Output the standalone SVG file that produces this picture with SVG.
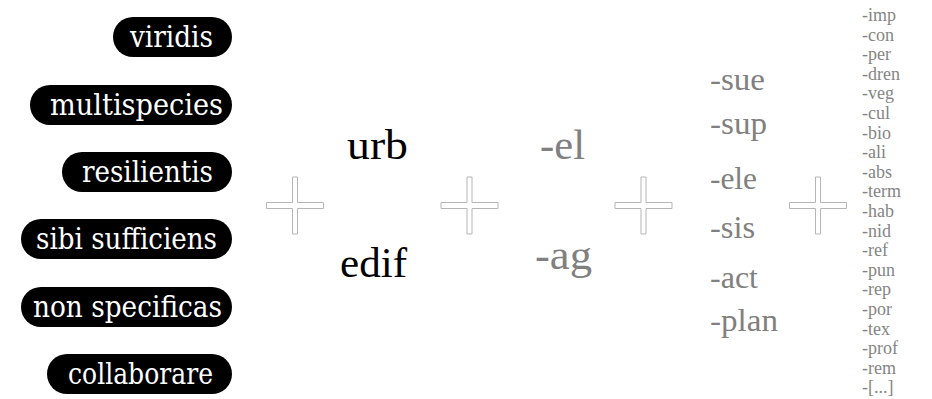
<svg xmlns="http://www.w3.org/2000/svg" xmlns:xlink="http://www.w3.org/1999/xlink" width="932" height="399" viewBox="0 0 932 399">
<style>
.pill{fill:#000}
.pt{fill:#fff;font-size:29px;font-family:'DejaVu Serif',serif}
.root{fill:#000;font-size:42px;font-family:'Liberation Serif',serif}
.suf1{fill:#808080;font-size:42px;font-family:'Liberation Serif',serif}
.suf2{fill:#808080;font-size:32px;font-family:'Liberation Serif',serif}
.suf3{fill:#858585;font-size:18px;font-family:'Liberation Serif',serif}
.plus{fill:#fff;stroke:#b5b5b5;stroke-width:1}
</style>
<defs>
<polygon id="plusShape" class="plus" points="-2.5,-28.5 2.5,-28.5 2.5,-3 28.5,-3 28.5,3 2.5,3 2.5,28.5 -2.5,28.5 -2.5,3 -28.5,3 -28.5,-3 -2.5,-3"/>
</defs>
<rect width="932" height="399" fill="#fff"/>
<g id="pills">
<g id="n-viridis"><rect class="pill" x="113" y="17" width="119" height="40" rx="20"/><text class="pt" x="130" y="46.5" textLength="83" lengthAdjust="spacingAndGlyphs">viridis</text></g>
<g id="n-multispecies"><rect class="pill" x="30" y="85" width="202" height="40" rx="20"/><text class="pt" x="50" y="114.5" textLength="173" lengthAdjust="spacingAndGlyphs">multispecies</text></g>
<g id="n-resilientis"><rect class="pill" x="62" y="152" width="170" height="40" rx="20"/><text class="pt" x="82" y="181.5" textLength="131" lengthAdjust="spacingAndGlyphs">resilientis</text></g>
<g id="n-sibi"><rect class="pill" x="21" y="219" width="211" height="40" rx="20"/><text class="pt" x="36" y="248.5" textLength="181" lengthAdjust="spacingAndGlyphs">sibi sufficiens</text></g>
<g id="n-non"><rect class="pill" x="21" y="287" width="211" height="40" rx="20"/><text class="pt" x="33" y="316.5" textLength="189" lengthAdjust="spacingAndGlyphs">non specificas</text></g>
<g id="n-collaborare"><rect class="pill" x="47" y="354" width="185" height="40" rx="20"/><text class="pt" x="68" y="383.5" textLength="145" lengthAdjust="spacingAndGlyphs">collaborare</text></g>
</g>
<g id="connectors">
<use id="plus1" xlink:href="#plusShape" x="295" y="205.5"/>
<use id="plus2" xlink:href="#plusShape" x="469.5" y="205.5"/>
<use id="plus3" xlink:href="#plusShape" x="643.5" y="205.5"/>
<use id="plus4" xlink:href="#plusShape" x="818" y="205.5"/>
</g>
<g id="roots">
<g id="n-urb"><text class="root" x="347" y="159" textLength="61" lengthAdjust="spacingAndGlyphs">urb</text></g>
<g id="n-edif"><text class="root" x="340" y="277" textLength="67" lengthAdjust="spacingAndGlyphs">edif</text></g>
</g>
<g id="suffix1">
<g id="n-el"><text class="suf1" x="540" y="159" textLength="45" lengthAdjust="spacingAndGlyphs">-el</text></g>
<g id="n-ag"><text class="suf1" x="535" y="269" textLength="57" lengthAdjust="spacingAndGlyphs">-ag</text></g>
</g>
<g id="suffix2">
<g id="n-sue"><text class="suf2" x="710" y="90" textLength="55" lengthAdjust="spacingAndGlyphs">-sue</text></g>
<g id="n-sup"><text class="suf2" x="710" y="134" textLength="57" lengthAdjust="spacingAndGlyphs">-sup</text></g>
<g id="n-ele"><text class="suf2" x="710" y="189" textLength="47" lengthAdjust="spacingAndGlyphs">-ele</text></g>
<g id="n-sis"><text class="suf2" x="710" y="238" textLength="45" lengthAdjust="spacingAndGlyphs">-sis</text></g>
<g id="n-act"><text class="suf2" x="710" y="288" textLength="48" lengthAdjust="spacingAndGlyphs">-act</text></g>
<g id="n-plan"><text class="suf2" x="710" y="331" textLength="68" lengthAdjust="spacingAndGlyphs">-plan</text></g>
</g>
<g id="suffix3" class="suf3">
<text x="862" y="21">-imp</text>
<text x="862" y="40.6">-con</text>
<text x="862" y="60.2">-per</text>
<text x="862" y="79.8">-dren</text>
<text x="862" y="99.4">-veg</text>
<text x="862" y="119">-cul</text>
<text x="862" y="138.6">-bio</text>
<text x="862" y="158.2">-ali</text>
<text x="862" y="177.8">-abs</text>
<text x="862" y="197.4">-term</text>
<text x="862" y="217">-hab</text>
<text x="862" y="236.6">-nid</text>
<text x="862" y="256.2">-ref</text>
<text x="862" y="275.8">-pun</text>
<text x="862" y="295.4">-rep</text>
<text x="862" y="315">-por</text>
<text x="862" y="334.6">-tex</text>
<text x="862" y="354.2">-prof</text>
<text x="862" y="373.8">-rem</text>
<text x="862" y="393.4">-[...]</text>
</g>
</svg>
